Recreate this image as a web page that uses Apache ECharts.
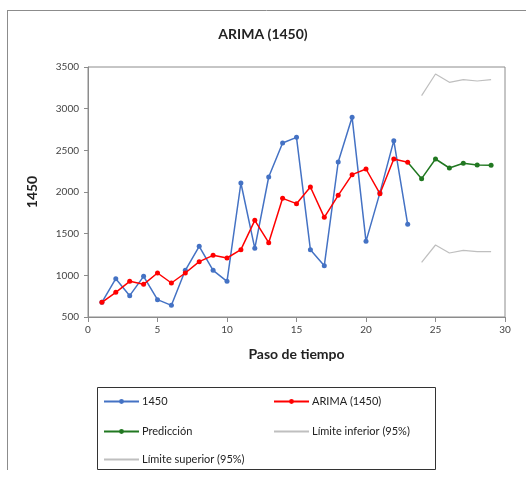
<!DOCTYPE html>
<html><head><meta charset="utf-8">
<script src="https://cdn.jsdelivr.net/npm/echarts@6/dist/echarts.min.js"></script>
<style>html,body{margin:0;padding:0;background:#fff}#c{width:526px;height:478px}</style>
</head><body><div id="c"></div>
<script>
const steps = [1,2,3,4,5,6,7,8,9,10,11,12,13,14,15,16,17,18,19,20,21,22,23,24,25,26,27,28,29];
const serie1450 = [676,960,756,988,708,640,1060,1348,1060,928,2108,1324,2180,2588,2656,1308,1116,2360,2896,1408,1990,2616,1612];
const arima1450 = [676,796,928,892,1028,908,1028,1164,1240,1208,1308,1660,1392,1924,1860,2060,1696,1960,2208,2276,1980,2396,2356];
const predSteps = [23,24,25,26,27,28,29];
const prediccion = [2356,2160,2396,2288,2344,2324,2320];
const limSteps = [24,25,26,27,28,29];
const limInferior = [1156,1364,1268,1300,1284,1284];
const limSuperior = [3156,3416,3316,3348,3332,3348];
const xTicks = [0,5,10,15,20,25,30];
const yTicks = [500,1000,1500,2000,2500,3000,3500];

const FONT = 'Lato';
const pair = (xs, ys) => ys.map((v,i)=>[xs[i], v]);
const chart = echarts.init(document.getElementById('c'));
const legItem = (name, left, top, noSym) => {
  const o = {
    data:[name], left, top, itemWidth:35, itemHeight:6, itemGap:0, padding:0,
    textStyle:{fontFamily:FONT, fontSize:11, color:'#222', padding:[0,0,0,-2]}, selectedMode:false
  };
  if (noSym) o.itemStyle = {opacity:0};
  return o;
};
chart.setOption({
  animation:false,
  title:{text:'ARIMA (1450)', left:'center', top:22, textStyle:{fontFamily:FONT, fontSize:14, fontWeight:'bold', color:'#222'}},
  grid:{left:88, right:21, top:67, bottom:161, show:true, borderColor:'#8c8c8c', borderWidth:1},
  xAxis:{type:'value', min:0, max:30, interval:5,
    name:'Paso de tiempo', nameLocation:'middle', nameGap:30,
    nameTextStyle:{fontFamily:FONT, fontSize:14, fontWeight:'bold', color:'#222'},
    axisLine:{lineStyle:{color:'#8c8c8c'}}, axisTick:{show:true, inside:false, length:5, lineStyle:{color:'#8c8c8c'}},
    axisLabel:{fontFamily:FONT, fontSize:10, color:'#444', margin:8, formatter:v=>String(v)}, splitLine:{show:false}},
  yAxis:{type:'value', min:500, max:3500, interval:500,
    name:'1450', nameLocation:'middle', nameGap:49, nameRotate:90,
    nameTextStyle:{fontFamily:FONT, fontSize:14, fontWeight:'bold', color:'#222'},
    axisLine:{show:true, lineStyle:{color:'#8c8c8c'}}, axisTick:{show:true, length:4, lineStyle:{color:'#8c8c8c'}},
    axisLabel:{fontFamily:FONT, fontSize:10, color:'#444', margin:9, formatter:v=>String(v)}, splitLine:{show:false}},
  legend:[
    legItem('1450', 103, 396),
    legItem('ARIMA (1450)', 273, 396),
    legItem('Predicción', 103, 426),
    legItem('Límite inferior (95%)', 273, 426, true),
    legItem('Límite superior (95%)', 103, 454, true)
  ],
  graphic:[
    {type:'line', shape:{x1:7,y1:10.5,x2:526,y2:10.5}, style:{stroke:'#8c8c8c', lineWidth:1}},
    {type:'line', shape:{x1:7.5,y1:10,x2:7.5,y2:470}, style:{stroke:'#8c8c8c', lineWidth:1}},
    {type:'rect', shape:{x:97.5,y:387.5,width:338,height:82}, style:{fill:'none', stroke:'#333', lineWidth:1}}
  ],
  series:[
    {name:'1450', type:'line', data:pair(steps, serie1450), symbol:'circle', symbolSize:5,
      itemStyle:{color:'#4472C4'}, lineStyle:{color:'#4472C4', width:1.5}, z:2},
    {name:'ARIMA (1450)', type:'line', data:pair(steps, arima1450), symbol:'circle', symbolSize:5,
      itemStyle:{color:'#FF0000'}, lineStyle:{color:'#FF0000', width:1.5}, z:4},
    {name:'Predicción', type:'line', data:pair(predSteps, prediccion).map((p,i)=> i===0 ? {value:p, symbol:'none'} : p),
      symbol:'circle', symbolSize:5,
      itemStyle:{color:'#217821'}, lineStyle:{color:'#217821', width:1.5}, z:3},
    {name:'Límite inferior (95%)', type:'line', data:pair(limSteps, limInferior), symbol:'none',
      itemStyle:{color:'#BFBFBF'}, lineStyle:{color:'#BFBFBF', width:1.2}},
    {name:'Límite superior (95%)', type:'line', data:pair(limSteps, limSuperior), symbol:'none',
      itemStyle:{color:'#BFBFBF'}, lineStyle:{color:'#BFBFBF', width:1.2}}
  ]
});
</script></body></html>
